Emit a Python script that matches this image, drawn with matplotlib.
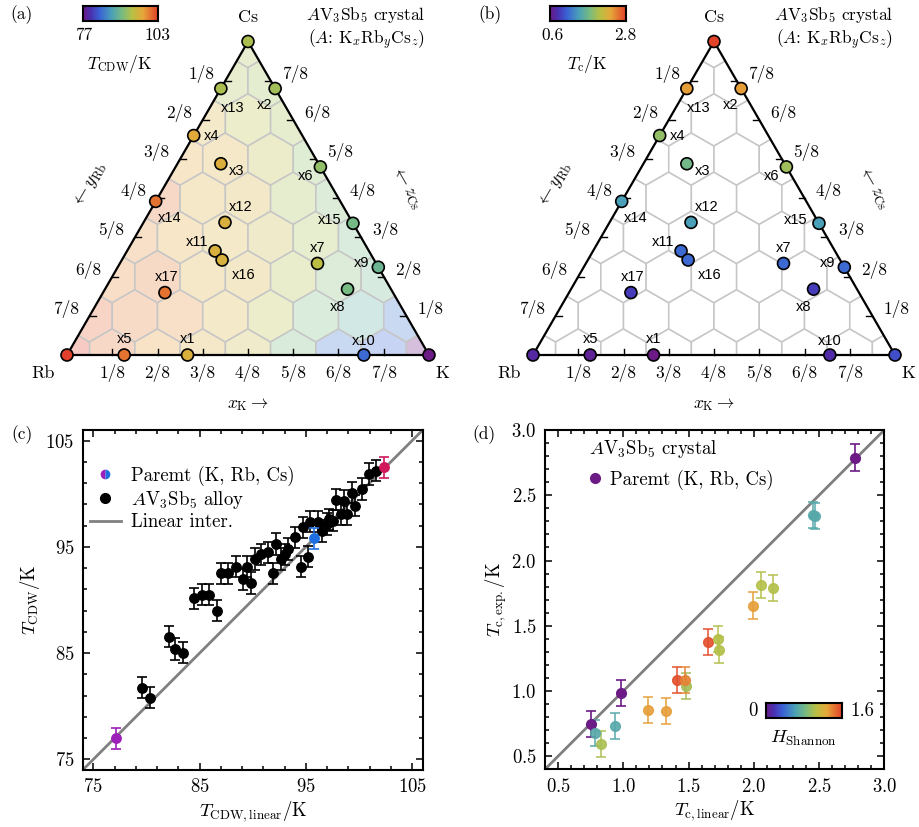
import numpy as np
import matplotlib
matplotlib.use('Agg')
import matplotlib.pyplot as plt
from matplotlib.colors import LinearSegmentedColormap, Normalize
from matplotlib.patches import Polygon
from matplotlib.lines import Line2D
from matplotlib.ticker import FixedLocator, MultipleLocator

plt.rcParams['font.family'] = 'serif'
plt.rcParams['font.serif'] = ['cmr10']
plt.rcParams['mathtext.fontset'] = 'cm'
plt.rcParams['axes.formatter.use_mathtext'] = True

W, H = 919, 827

# ---------------- data ----------------
# samples of the ternary diagram: composition x_K and z_Cs (y_Rb = 1 - x - z)
names = ['Rb', 'K', 'Cs', 'x1', 'x2', 'x3', 'x4', 'x5', 'x6', 'x7', 'x8', 'x9',
         'x10', 'x11', 'x12', 'x13', 'x14', 'x15', 'x16', 'x17']
x_K = [0.0, 1.0, 0.0, 0.333, 0.15, 0.12, 0.0, 0.158, 0.40, 0.546, 0.67, 0.72,
       0.82, 0.243, 0.225, 0.0, 0.0, 0.58, 0.277, 0.171]
z_Cs = [0.0, 0.0, 1.0, 0.0, 0.85, 0.61, 0.70, 0.0, 0.60, 0.292, 0.21, 0.28,
        0.0, 0.332, 0.423, 0.85, 0.49, 0.42, 0.303, 0.199]
# T_CDW (K) of each sample, panel (a)
t_cdw = [103, 77, 93.4, 96.8, 92.9, 97.0, 97.3, 100.4, 92.0, 94.4, 90.5, 89.5,
         83.2, 96.5, 96.5, 93.4, 100.4, 90.3, 96.5, 100.4]
# T_c (K) of each sample, panel (b)
t_c = [0.75, 0.98, 2.78, 0.60, 2.40, 1.70, 1.88, 0.69, 1.94, 1.13, 0.89, 1.13,
       0.78, 1.13, 1.44, 2.40, 1.44, 1.44, 1.13, 0.89]
# label offsets (pixels, screen: right / down)
lab_off = {'x1': (0, -16), 'x2': (-11, 16), 'x3': (16, 7), 'x4': (18, 0),
           'x5': (0, -16), 'x6': (-15, 9), 'x7': (0, -15), 'x8': (-10, 18),
           'x9': (-17, -4), 'x10': (0, -14), 'x11': (-18, -9), 'x12': (16, -15),
           'x13': (12, 19), 'x14': (14, 17), 'x15': (-23, -3), 'x16': (22, 15),
           'x17': (2, -16)}

# panel (c): T_CDW linear interpolation vs experiment
cdw_lin = [79.6, 80.3, 82.1, 82.7, 83.4, 84.5, 85.2, 85.9, 86.6, 87.0, 87.7,
           88.4, 89.1, 89.5, 89.8, 90.2, 90.8, 91.4, 91.9, 92.2, 92.7, 93.0,
           93.3, 94.0, 94.5, 95.2, 94.7, 95.4, 96.1, 96.5, 97.0, 97.2, 97.6,
           97.8, 98.3, 98.6, 98.9, 99.3, 99.6, 100.3, 100.9, 101.6]
cdw_exp = [81.75, 80.8, 86.56, 85.4, 85.05, 90.17, 90.5, 90.5, 89.0, 92.5,
           92.5, 93.15, 91.96, 93.15, 91.6, 93.85, 94.3, 94.5, 92.5, 95.26,
           93.85, 94.3, 94.8, 95.9, 93.15, 94.07, 96.83, 97.37, 97.37, 96.5,
           97.15, 97.6, 97.46, 99.44, 98.1, 99.35, 98.1, 100.1, 98.87, 100.45,
           101.86, 102.17]
cdw_err = 1.0
par_cdw_lin = [77.1, 95.8, 102.4]
par_cdw_exp = [77.0, 95.8, 102.5]
par_cdw_col = ['#9b1fb8', '#1f6fe0', '#d0185a']

# panel (d): T_c linear interpolation vs experiment, coloured by Shannon entropy
tc_lin = [0.749, 0.982, 2.777, 0.78, 0.83, 0.936, 1.192, 1.328, 1.41, 1.482,
          1.469, 1.649, 1.723, 1.731, 1.992, 2.059, 2.146, 2.45, 2.47]
tc_exp = [0.75, 0.985, 2.789, 0.68, 0.595, 0.732, 0.856, 0.848, 1.085, 1.04,
          1.085, 1.376, 1.40, 1.317, 1.655, 1.814, 1.789, 2.35, 2.34]
h_shannon = [0, 0, 0, 0.67, 1.0, 0.67, 1.31, 1.31, 1.55, 0.98, 1.4, 1.55,
             1.04, 1.04, 1.31, 1.04, 1.04, 0.67, 0.67]
tc_err = 0.1

cmap = LinearSegmentedColormap.from_list('spec', [
    (0.0, '#6c1a86'), (0.1, '#4a30b0'), (0.22, '#3a62d6'), (0.38, '#4aa0b8'),
    (0.52, '#78bb82'), (0.66, '#b8c044'), (0.8, '#e6a83a'), (1.0, '#e2402a')])

fig = plt.figure(figsize=(W / 100, H / 100), dpi=100)

SQ3 = np.sqrt(3) / 2
L = 362.0


def to_xy(xk, zc):
    xk = np.asarray(xk, float)
    zc = np.asarray(zc, float)
    return xk + 0.5 * zc, SQ3 * zc


def ptext(x, y, s, **kw):
    fig.text(x / W, 1 - y / H, s, ha='center', va='center', **kw)


def cbar(x0, y0, x1, y1):
    cax = fig.add_axes([x0 / W, 1 - y1 / H, (x1 - x0) / W, (y1 - y0) / H])
    cax.imshow(np.linspace(0, 1, 256)[None, :], aspect='auto', cmap=cmap,
               extent=[0, 1, 0, 1])
    cax.set_xticks([])
    cax.set_yticks([])
    for s in cax.spines.values():
        s.set_linewidth(1.5)


def idw(qx, qy, sx, sy, sv):
    d = np.hypot(sx - qx, sy - qy)
    if d.min() < 1e-6:
        return sv[np.argmin(d)]
    w = 1 / d ** 3
    return np.sum(w * sv) / np.sum(w)


def ternary(left, width, rb_x, vals, norm, fill):
    ax = fig.add_axes([left / W, 1 - 412 / H, width / W, 412 / H])
    ax.set_xlim((left - rb_x) / L, (left + width - rb_x) / L)
    ax.set_ylim((355 - 412) / L, 355 / L)
    ax.axis('off')
    tri = Polygon([[0, 0], [1, 0], [0.5, SQ3]], closed=True, fc='none', ec='none')
    ax.add_patch(tri)
    px, py = to_xy(x_K, z_Cs)
    sv = np.asarray(vals, float)
    N = 8
    r = 1 / N / np.sqrt(3)
    ang = np.deg2rad(90 + 60 * np.arange(6))
    for i in range(N + 1):
        for k in range(N + 1 - i):
            cx, cy = to_xy(i / N, k / N)
            verts = np.column_stack([cx + r * np.cos(ang), cy + r * np.sin(ang)])
            if fill:
                t = idw(cx, cy, px, py, sv)
                c = np.array(cmap(norm(t)))
                fc = 0.28 * c + 0.72
                fc[3] = 1
            else:
                fc = 'white'
            hp = Polygon(verts, closed=True, fc=fc, ec='#c6c6c6', lw=1.1)
            ax.add_patch(hp)
            hp.set_clip_path(tri)
    ax.plot([0, 1, 0.5, 0], [0, 0, SQ3, 0], color='k', lw=1.6, zorder=3)
    tl = 6 / L
    for k in range(1, N):
        f = k / N
        ax.plot([f, f], [0, tl], color='k', lw=1, zorder=3)
        ax.annotate(f'{k}/8', (f, 0), xytext=(0, -18), textcoords='offset pixels',
                    ha='center', va='center', fontsize=12.5)
        lx, ly = to_xy(0, f)
        ax.plot([lx, lx + tl], [ly, ly], color='k', lw=1, zorder=3)
        ax.annotate(f'{N - k}/8', (lx, ly), xytext=(-24, 7), textcoords='offset pixels',
                    ha='center', va='center', fontsize=12.5)
        rx, ry = to_xy(1 - f, f)
        ax.plot([rx, rx - tl], [ry, ry], color='k', lw=1, zorder=3)
        ax.annotate(f'{k}/8', (rx, ry), xytext=(24, 7), textcoords='offset pixels',
                    ha='center', va='center', fontsize=12.5)
    ax.scatter(px, py, s=74, c=vals, cmap=cmap, norm=norm, edgecolors='k',
               linewidths=1.2, zorder=5, clip_on=False)
    for n, xx, yy in zip(names, px, py):
        if n in lab_off:
            dx, dy = lab_off[n]
            ax.annotate(n, (xx, yy), xytext=(dx, -dy), textcoords='offset pixels',
                        ha='center', va='center', fontsize=10.5,
                        family='Liberation Sans', zorder=6)
    ax.annotate('Cs', (0.5, SQ3), xytext=(0, 24), textcoords='offset pixels',
                ha='center', va='center', fontsize=13)
    ax.annotate('Rb', (0, 0), xytext=(-24, -18), textcoords='offset pixels',
                ha='center', va='center', fontsize=13)
    ax.annotate('K', (1, 0), xytext=(13, -18), textcoords='offset pixels',
                ha='center', va='center', fontsize=13)
    return ax


# ---------------- (a) ----------------
norm_a = Normalize(77, 103)
ternary(0, 460, 67, t_cdw, norm_a, True)
cbar(83, 6, 158, 21)
ptext(84, 35, '77', fontsize=12.5)
ptext(158, 35, '103', fontsize=12.5)
ptext(120, 64, r'$T_{\rm CDW}$/K', fontsize=12.5)
ptext(22, 15, '(a)', fontsize=12.5)
ptext(366, 15, r'$A$V$_3$Sb$_5$ crystal', fontsize=12.5)
ptext(366, 40, r'($A$: K$_x$Rb$_y$Cs$_z$)', fontsize=12.5)
ptext(248, 405, r'$x_{\rm K}\rightarrow$', fontsize=12.5)
ptext(90, 185, r'$\leftarrow y_{\rm Rb}$', fontsize=13, rotation=60)
ptext(405, 188, r'$\leftarrow z_{\rm Cs}$', fontsize=13, rotation=-60)

# ---------------- (b) ----------------
norm_b = Normalize(0.6, 2.8)
ternary(460, 459, 533, t_c, norm_b, False)
cbar(550, 6, 626, 21)
ptext(552, 35, '0.6', fontsize=12.5)
ptext(625, 35, '2.8', fontsize=12.5)
ptext(587, 64, r'$T_{\rm c}$/K', fontsize=12.5)
ptext(490, 15, '(b)', fontsize=12.5)
ptext(834, 15, r'$A$V$_3$Sb$_5$ crystal', fontsize=12.5)
ptext(834, 40, r'($A$: K$_x$Rb$_y$Cs$_z$)', fontsize=12.5)
ptext(714, 405, r'$x_{\rm K}\rightarrow$', fontsize=12.5)
ptext(555, 185, r'$\leftarrow y_{\rm Rb}$', fontsize=13, rotation=60)
ptext(872, 188, r'$\leftarrow z_{\rm Cs}$', fontsize=13, rotation=-60)


def style(ax):
    ax.tick_params(which='both', direction='in', top=True, right=True,
                   labelsize=13.5, width=1.1, pad=6)
    ax.tick_params(which='major', length=5)
    ax.tick_params(which='minor', length=3)
    for s in ax.spines.values():
        s.set_linewidth(1.5)


# ---------------- (c) ----------------
axc = fig.add_axes([82.7 / W, 1 - 770 / H, 340 / W, 340 / H])
lim_c = [74, 106]
axc.plot(lim_c, lim_c, color='#808080', lw=2, zorder=1)
axc.errorbar(cdw_lin, cdw_exp, yerr=cdw_err, fmt='o', color='k', ms=6.8,
             capsize=3.5, elinewidth=1.2, capthick=1.2, zorder=3)
for xx, yy, cc in zip(par_cdw_lin, par_cdw_exp, par_cdw_col):
    axc.errorbar(xx, yy, yerr=cdw_err, fmt='o', color=cc, ms=6.8,
                 capsize=3.5, elinewidth=1.2, capthick=1.2, zorder=4)
axc.set_xlim(lim_c)
axc.set_ylim(lim_c)
axc.set_xticks([75, 85, 95, 105])
axc.set_yticks([75, 85, 95, 105])
axc.xaxis.set_minor_locator(FixedLocator(np.arange(77, 105, 2)))
axc.yaxis.set_minor_locator(FixedLocator(np.arange(77, 105, 2)))
style(axc)
axc.set_xlabel(r'$T_{\rm CDW,linear}$/K', fontsize=13.5, labelpad=2)
axc.set_ylabel(r'$T_{\rm CDW}$/K', fontsize=13.5, labelpad=2)
hc = [Line2D([], [], ls='none', marker='o', ms=7, fillstyle='left',
             markerfacecolor=par_cdw_col[0], markerfacecoloralt=par_cdw_col[1],
             markeredgewidth=0),
      Line2D([], [], ls='none', marker='o', ms=7, color='k'),
      Line2D([], [], color='#808080', lw=2)]
axc.legend(hc, ['Paremt (K, Rb, Cs)', r'$A$V$_3$Sb$_5$ alloy', 'Linear inter.'],
           loc='upper left', bbox_to_anchor=(0.02, 0.895), frameon=False,
           fontsize=13.5, handlelength=1.7, handletextpad=0.5, labelspacing=0.15,
           borderaxespad=0, borderpad=0)
ptext(22, 435, '(c)', fontsize=12.5)

# ---------------- (d) ----------------
axd = fig.add_axes([545 / W, 1 - 769.3 / H, 339.3 / W, 339.3 / H])
lim_d = [0.4, 3.0]
axd.plot(lim_d, lim_d, color='#808080', lw=2, zorder=1)
norm_d = Normalize(0, 1.6)
for xx, yy, hh in zip(tc_lin, tc_exp, h_shannon):
    cc = cmap(norm_d(hh))
    axd.errorbar(xx, yy, yerr=tc_err, fmt='o', color=cc, ms=7, capsize=3.5,
                 elinewidth=1.2, capthick=1.2, alpha=0.9 if hh > 0 else 1,
                 zorder=3)
axd.set_xlim(lim_d)
axd.set_ylim(lim_d)
axd.xaxis.set_major_locator(MultipleLocator(0.5))
axd.yaxis.set_major_locator(MultipleLocator(0.5))
axd.xaxis.set_minor_locator(MultipleLocator(0.1))
axd.yaxis.set_minor_locator(MultipleLocator(0.1))
style(axd)
axd.set_xlabel(r'$T_{\rm c,linear}$/K', fontsize=13.5, labelpad=2)
axd.set_ylabel(r'$T_{\rm c,exp.}$/K', fontsize=13.5, labelpad=2)
hd = [Line2D([], [], ls='none', marker='o', ms=7, color=cmap(0.0))]
leg = axd.legend(hd, ['Paremt (K, Rb, Cs)'], title=r'$A$V$_3$Sb$_5$ crystal',
                 title_fontsize=13.5, alignment='left', loc='upper left',
                 bbox_to_anchor=(0.13, 0.975), frameon=False, fontsize=13.5,
                 handlelength=0.6, handletextpad=0.5, borderaxespad=0, borderpad=0)
cbar(766, 703, 842, 718)
ptext(753, 711, '0', fontsize=13.5)
ptext(862, 711, '1.6', fontsize=13.5)
ptext(803, 738, r'$H_{\rm Shannon}$', fontsize=13.5)
ptext(484, 435, '(d)', fontsize=12.5)

fig.savefig('out.png', dpi=100)
